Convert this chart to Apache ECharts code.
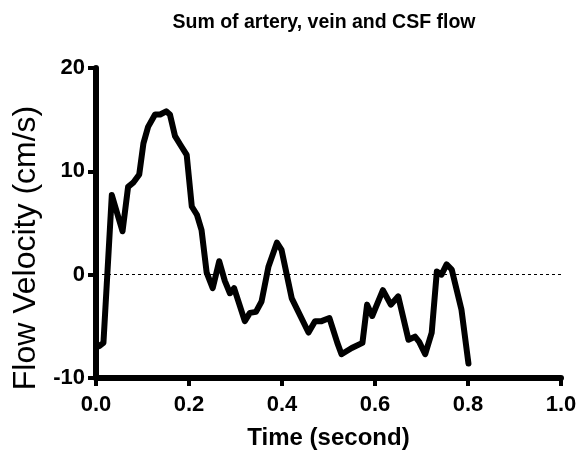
<!DOCTYPE html>
<html>
<head>
<meta charset="utf-8">
<script src="https://cdn.jsdelivr.net/npm/echarts@6/dist/echarts.min.js"></script>
<style>html,body{margin:0;padding:0;background:#fff}#c{width:579px;height:451px}</style>
</head>
<body>
<div id="c"></div>
<script>
var titleText = 'Sum of artery, vein and CSF flow';
var xName = 'Time (second)';
var yName = 'Flow Velocity (cm/s)';
var times = [0.007,0.016,0.034,0.057,0.069,0.080,0.093,0.102,0.112,0.127,0.138,0.151,0.159,0.170,0.181,0.195,0.206,0.217,0.227,0.238,0.251,0.265,0.277,0.288,0.297,0.320,0.331,0.344,0.356,0.371,0.389,0.399,0.421,0.457,0.471,0.485,0.502,0.519,0.528,0.550,0.573,0.583,0.594,0.617,0.634,0.650,0.672,0.686,0.695,0.708,0.722,0.733,0.743,0.754,0.765,0.786,0.801];
var velocity = [-6.9,-6.6,7.7,4.2,8.5,8.9,9.7,12.7,14.3,15.5,15.5,15.8,15.5,13.4,12.6,11.6,6.6,5.8,4.3,0.2,-1.3,1.3,-0.6,-1.8,-1.3,-4.5,-3.7,-3.6,-2.6,0.8,3.1,2.4,-2.3,-5.6,-4.5,-4.5,-4.2,-6.6,-7.7,-7.1,-6.6,-2.9,-4.0,-1.5,-2.9,-2.1,-6.3,-6.0,-6.5,-7.7,-5.6,0.3,0.0,1.0,0.5,-3.4,-8.6];
var xTicks = [0.0,0.2,0.4,0.6,0.8,1.0];
var yTicks = [-10,0,10,20];

var data = times.map(function(t,i){return [t, velocity[i]];});
var chart = echarts.init(document.getElementById('c'));
var font = 'Liberation Sans, Arial, sans-serif';
chart.setOption({
  animation:false,
  backgroundColor:'#fff',
  title:{text:titleText,left:319,textAlign:'center',top:8,textStyle:{fontFamily:font,fontSize:19.5,fontWeight:'bold',color:'#000'}},
  grid:{left:96,right:18,top:68,bottom:73,containLabel:false,outerBoundsMode:'none'},
  xAxis:{type:'value',min:xTicks[0],max:xTicks[xTicks.length-1],interval:0.2,
    name:xName,nameLocation:'middle',nameGap:48,
    nameTextStyle:{fontFamily:font,fontSize:24,fontWeight:'bold',color:'#000'},
    axisLine:{show:true,onZero:false,lineStyle:{color:'#000',width:6,cap:'round'}},
    axisTick:{show:true,length:8,lineStyle:{color:'#000',width:4}},
    axisLabel:{margin:16,fontFamily:font,fontSize:22,fontWeight:'bold',color:'#000',
      formatter:function(v){return v.toFixed(1);}},
    splitLine:{show:false}},
  yAxis:{type:'value',min:yTicks[0],max:yTicks[yTicks.length-1],interval:10,
    name:yName,nameLocation:'middle',nameGap:54,
    nameTextStyle:{fontFamily:font,fontSize:32,color:'#000',padding:[0,50,0,0]},
    axisLine:{show:true,onZero:false,lineStyle:{color:'#000',width:6,cap:'round'}},
    axisTick:{show:true,length:8,lineStyle:{color:'#000',width:4}},
    axisLabel:{margin:11,fontFamily:font,fontSize:22,fontWeight:'bold',color:'#000'},
    splitLine:{show:false}},
  series:[{type:'line',data:data,showSymbol:false,symbol:'none',
    lineStyle:{color:'#000',width:6,join:'round',cap:'round'},
    markLine:{silent:true,symbol:'none',label:{show:false},
      lineStyle:{color:'#000',width:1,type:[3,3]},
      data:[{yAxis:0}]}}]
});
</script>
</body>
</html>
